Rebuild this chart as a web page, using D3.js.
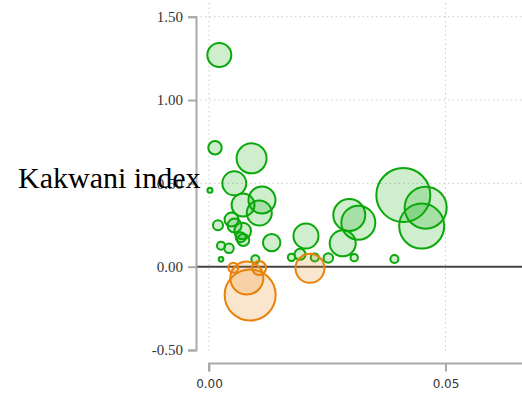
<!DOCTYPE html>
<html>
<head>
<meta charset="utf-8">
<script src="https://cdn.jsdelivr.net/npm/d3@7"></script>
<style>
  body { margin: 0; background: #fff; }
  svg { display: block; }
  .grid line { stroke: #ccc; stroke-dasharray: 1.5,3; }
  .axis path, .axis line { stroke: #aaa; stroke-width: 2; fill: none; }
  .yaxis text { font-family: "Liberation Serif", serif; font-size: 15px; fill: #333; }
  .xaxis text { font-family: "DejaVu Sans", sans-serif; font-size: 12px; fill: #333; }
</style>
</head>
<body>
<svg id="chart" width="522" height="401"></svg>
<script>
// green: positive Kakwani index, orange: negative
const greenX = [0.00218, 0.00127, 0.0090, 0.00535, 0.0002, 0.0112, 0.0072, 0.01063, 0.0019, 0.00476,
  0.0054, 0.00712, 0.0067, 0.00725, 0.01325, 0.00254, 0.00423, 0.00254, 0.0098, 0.0205,
  0.01744, 0.01924, 0.02237, 0.02522, 0.0307, 0.0392, 0.02827, 0.02966, 0.03157, 0.04108,
  0.04581, 0.04497]
const greenY = [1.27, 0.714, 0.650, 0.500, 0.458, 0.400, 0.370, 0.322, 0.248, 0.283,
  0.247, 0.214, 0.176, 0.160, 0.144, 0.126, 0.110, 0.044, 0.044, 0.184,
  0.056, 0.074, 0.055, 0.052, 0.054, 0.046, 0.140, 0.310, 0.264, 0.430,
  0.354, 0.244]
const greenSize = [16, 5, 25, 16, 0.7, 20.3, 14.7, 17.4, 2.8, 5.4,
  5.4, 7.7, 2.8, 4, 8.4, 1.8, 2.5, 0.6, 1.8, 17.4,
  1.5, 3.4, 1.8, 2.5, 1.5, 1.8, 18.8, 28.4, 32.1, 81,
  49, 56.3]

const orangeX = [0.00514, 0.0080, 0.0087, 0.0106, 0.02135]
const orangeY = [-0.006, -0.068, -0.170, -0.008, -0.010]
const orangeSize = [2.8, 30.3, 72.3, 5.4, 23.4]

const yTicks = [-0.5, 0, 0.5, 1.0, 1.5]
const xTicks = [0, 0.05]
const yLabel = 'Kakwani index'

const svg = d3.select('#chart')

const x = d3.scaleLinear().domain([0, 0.05]).range([209, 445.5])
const y = d3.scaleLinear().domain([-0.5, 1.5]).range([350, 16.7])
const r = d3.scaleSqrt().domain([0, 100]).range([0, 30])
const fmt = d => d.toFixed(2)

const axisX = 196
const axisY = 363.5

// grid
const grid = svg.append('g').attr('class', 'grid')
grid.selectAll('.gx').data(xTicks).join('line')
  .attr('x1', d => x(d)).attr('x2', d => x(d))
  .attr('y1', 3).attr('y2', 353)
grid.selectAll('.gy').data(yTicks.filter(d => d > 0)).join('line')
  .attr('x1', axisX).attr('x2', 522)
  .attr('y1', d => y(d)).attr('y2', d => y(d))

// zero line
svg.append('line')
  .attr('x1', axisX).attr('x2', 522)
  .attr('y1', y(0)).attr('y2', y(0))
  .attr('stroke', '#444').attr('stroke-width', 2)

// axes
svg.append('g')
  .attr('class', 'axis yaxis')
  .attr('transform', `translate(${axisX},0)`)
  .call(d3.axisLeft(y).tickValues(yTicks).tickFormat(fmt).tickSize(8).tickPadding(5))

svg.append('g')
  .attr('class', 'axis xaxis')
  .attr('transform', `translate(0,${axisY})`)
  .call(d3.axisBottom(x).tickValues(xTicks).tickFormat(fmt).tickSize(8).tickPadding(8))
  .select('.domain').attr('d', `M209,8V0H522`)

// bubbles
const greens = greenX.map((d, i) => ({ x: d, y: greenY[i], s: greenSize[i] }))
const oranges = orangeX.map((d, i) => ({ x: d, y: orangeY[i], s: orangeSize[i] }))

const drawBubbles = (data, color) => {
  svg.append('g').selectAll('circle')
    .data(data)
    .join('circle')
    .attr('cx', d => x(d.x))
    .attr('cy', d => y(d.y))
    .attr('r', d => r(d.s))
    .attr('fill', color)
    .attr('fill-opacity', 0.2)
    .attr('stroke', color)
    .attr('stroke-width', 2)
}

drawBubbles(greens, '#0aa80a')
drawBubbles(oranges, '#e8820a')

// y axis title, sits over the 0.50 tick label as in the original
svg.append('text')
  .attr('x', 18).attr('y', 188)
  .attr('font-family', '"Liberation Serif", serif')
  .attr('font-size', 30)
  .attr('fill', '#000')
  .text(yLabel)
</script>
</body>
</html>
